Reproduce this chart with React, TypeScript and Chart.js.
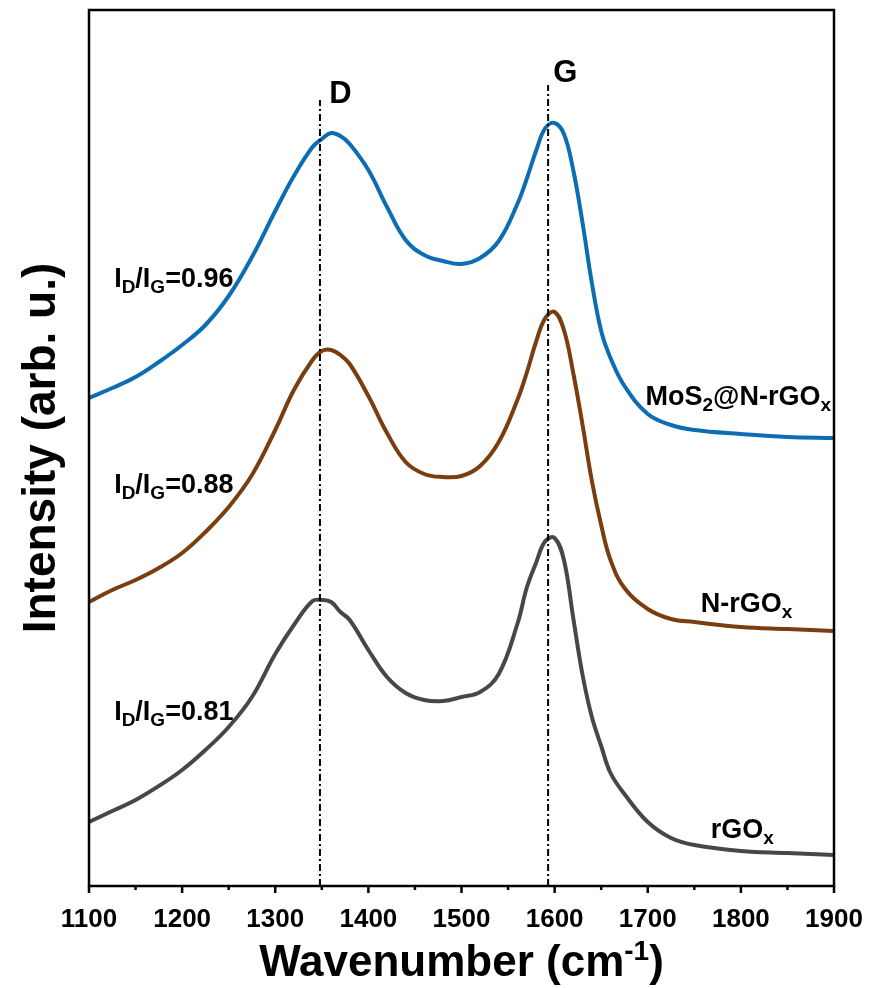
import React, { useEffect, useRef } from "react";
import { Chart, registerables } from "chart.js";

Chart.register(...registerables);

// ---- data ----
const wavenumbers = [
  1100, 1125, 1150, 1175, 1200, 1225, 1250, 1275, 1300, 1320, 1340, 1350, 1360, 1370,
  1380, 1400, 1420, 1440, 1460, 1480, 1500, 1520, 1540, 1560, 1570, 1580, 1590, 1600,
  1610, 1620, 1630, 1640, 1650, 1660, 1675, 1700, 1725, 1750, 1800, 1850, 1900,
];
const mos2Values = [
  488, 498, 509, 524, 541, 561, 590, 629, 675, 710, 739, 747, 753, 750,
  742, 716, 679, 646, 631, 625, 622, 628, 645, 682, 707, 735, 758, 763,
  752, 716, 663, 603, 555, 528, 500, 472, 461, 456, 452, 449, 448,
];
const nrgoValues = [
  284, 296, 306, 318, 333, 354, 379, 411, 456, 496, 526, 535, 536, 531,
  522, 490, 453, 424, 412, 409, 410, 420, 444, 486, 513, 544, 568, 574,
  556, 513, 461, 405, 361, 326, 298, 277, 267, 264, 259, 257, 255,
];
const rgoValues = [
  64, 75, 86, 100, 116, 136, 159, 189, 232, 261, 285, 286, 284, 274,
  266, 236, 209, 193, 186, 185, 189, 194, 212, 262, 298, 323, 345, 348,
  326, 268, 211, 169, 140, 113, 92, 64, 48, 41, 35, 33, 31,
];
const seriesNames = ["MoS2@N-rGOx", "N-rGOx", "rGOx"];
const ratioValues = ["0.96", "0.88", "0.81"];
const dPeak = 1348;
const gPeak = 1593;
const dLineTop = 786;
const gLineTop = 801;
const xMin = 1100;
const xMax = 1900;
const xMajorStep = 100;
const xMinorStep = 50;

const FONT = '"Liberation Sans", Arial, Helvetica, sans-serif';
const COLORS = ["#0d6db2", "#7a3d0f", "#474747"];

type Part = { t: string; k?: "sub" | "sup" };

function richWidth(ctx: CanvasRenderingContext2D, parts: Part[], size: number, small: number) {
  let w = 0;
  for (const p of parts) {
    ctx.font = `bold ${p.k ? small : size}px ${FONT}`;
    w += ctx.measureText(p.t).width;
  }
  return w;
}

function drawRich(
  ctx: CanvasRenderingContext2D,
  x: number,
  y: number,
  parts: Part[],
  size: number,
  small: number,
  subDy: number,
  supDy: number
) {
  let cx = x;
  ctx.textAlign = "left";
  ctx.textBaseline = "alphabetic";
  for (const p of parts) {
    ctx.font = `bold ${p.k ? small : size}px ${FONT}`;
    const dy = p.k === "sub" ? subDy : p.k === "sup" ? -supDy : 0;
    ctx.fillText(p.t, cx, y + dy);
    cx += ctx.measureText(p.t).width;
  }
}

function ratioParts(v: string): Part[] {
  return [
    { t: "I" },
    { t: "D", k: "sub" },
    { t: "/I" },
    { t: "G", k: "sub" },
    { t: "=" + v },
  ];
}

const decorPlugin = {
  id: "decor",
  afterDraw(chart: any) {
    const ctx: CanvasRenderingContext2D = chart.ctx;
    const xs = chart.scales.x;
    const ys = chart.scales.y;
    const area = chart.chartArea;
    ctx.save();
    ctx.fillStyle = "#000";
    ctx.strokeStyle = "#000";

    // frame
    ctx.lineWidth = 2.5;
    ctx.strokeRect(area.left, area.top, area.right - area.left, area.bottom - area.top);

    // bottom ticks (major + minor, outward)
    ctx.lineWidth = 2.5;
    for (let v = xMin; v <= xMax; v += xMinorStep) {
      const px = xs.getPixelForValue(v);
      const len = (v - xMin) % xMajorStep === 0 ? 7 : 4;
      ctx.beginPath();
      ctx.moveTo(px, area.bottom);
      ctx.lineTo(px, area.bottom + len);
      ctx.stroke();
    }

    const P = (w: number, v: number) => [xs.getPixelForValue(w), ys.getPixelForValue(v)];

    // peak labels
    ctx.textAlign = "left";
    ctx.textBaseline = "alphabetic";
    ctx.font = `bold 31px ${FONT}`;
    let [px, py] = P(1358, 783);
    ctx.fillText("D", px, py);
    [px, py] = P(1598.5, 804);
    ctx.fillText("G", px, py);

    // ratio labels
    const ratioPos = [599, 393, 166];
    ratioValues.forEach((r, i) => {
      const [x, y] = P(1127, ratioPos[i]);
      drawRich(ctx, x, y, ratioParts(r), 27, 19, 6, 0);
    });

    // series labels
    const seriesParts: Part[][] = [
      [{ t: "MoS" }, { t: "2", k: "sub" }, { t: "@N-rGO" }, { t: "x", k: "sub" }],
      [{ t: "N-rGO" }, { t: "x", k: "sub" }],
      [{ t: "rGO" }, { t: "x", k: "sub" }],
    ];
    const seriesPos = [
      [1697.6, 481],
      [1756.8, 274],
      [1767.6, 48],
    ];
    seriesParts.forEach((parts, i) => {
      const [x, y] = P(seriesPos[i][0], seriesPos[i][1]);
      drawRich(ctx, x, y, parts, 27, 19, 6, 0);
    });

    // x title
    const xt: Part[] = [{ t: "Wavenumber (cm" }, { t: "-1", k: "sup" }, { t: ")" }];
    const tw = richWidth(ctx, xt, 44, 28);
    const cx = (area.left + area.right) / 2;
    drawRich(ctx, cx - tw / 2, 976, xt, 44, 28, 0, 16);

    // y title
    ctx.save();
    ctx.translate(55, (area.top + area.bottom) / 2);
    ctx.rotate(-Math.PI / 2);
    ctx.font = `bold 46px ${FONT}`;
    ctx.textAlign = "center";
    ctx.textBaseline = "alphabetic";
    ctx.fillText("Intensity (arb. u.)", 0, 0);
    ctx.restore();

    ctx.restore();
  },
};

export default function App() {
  const ref = useRef<HTMLCanvasElement | null>(null);

  useEffect(() => {
    document.body.style.margin = "0";
    const canvas = ref.current;
    if (!canvas) return;

    const mk = (vals: number[]) => wavenumbers.map((w, i) => ({ x: w, y: vals[i] }));
    const seriesVals = [mos2Values, nrgoValues, rgoValues];

    const curveSets = seriesVals.map((vals, i) => ({
      label: seriesNames[i],
      data: mk(vals),
      borderColor: COLORS[i],
      backgroundColor: COLORS[i],
      borderWidth: 4,
      pointRadius: 0,
      tension: 0.4,
      fill: false,
    }));

    const dashSets = [
      { label: "D", data: [{ x: dPeak, y: 0 }, { x: dPeak, y: dLineTop }] },
      { label: "G", data: [{ x: gPeak, y: 0 }, { x: gPeak, y: gLineTop }] },
    ].map((d) => ({
      ...d,
      borderColor: "#000",
      borderWidth: 2,
      borderDash: [7, 3, 2, 3],
      pointRadius: 0,
      tension: 0,
      fill: false,
    }));

    const chart = new Chart(canvas, {
      type: "line",
      data: { datasets: [...dashSets, ...curveSets] as any },
      options: {
        animation: false,
        responsive: true,
        maintainAspectRatio: false,
        layout: { padding: { top: 10, right: 37, left: 0, bottom: 0 } },
        plugins: {
          legend: { display: false },
          tooltip: { enabled: false },
          title: { display: false },
        },
        scales: {
          x: {
            type: "linear",
            min: xMin,
            max: xMax,
            grid: { display: false, drawTicks: false },
            border: { display: false },
            ticks: {
              stepSize: xMajorStep,
              autoSkip: false,
              maxRotation: 0,
              color: "#000",
              padding: 18,
              font: { family: FONT, size: 26, weight: "bold" },
              callback: (v: any) => String(v),
            },
            afterFit: (s: any) => {
              s.height = 102;
              s.paddingLeft = 0;
              s.paddingRight = 0;
            },
          },
          y: {
            type: "linear",
            min: 0,
            max: 876,
            grid: { display: false, drawTicks: false },
            border: { display: false },
            ticks: { display: false },
            afterFit: (s: any) => {
              s.width = 89;
            },
          },
        },
      },
      plugins: [decorPlugin],
    });

    return () => chart.destroy();
  }, []);

  return (
    <div style={{ width: 871, height: 988, position: "relative" }}>
      <canvas ref={ref} />
    </div>
  );
}
